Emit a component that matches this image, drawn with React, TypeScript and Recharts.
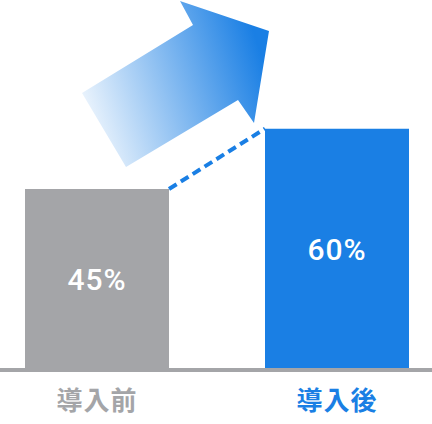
import React from "react";
import { Bar, Cell, ComposedChart, LabelList, Line, XAxis, YAxis } from "recharts";

const categories = ["導入前", "導入後"];
const values = [45, 60];
const barColors = ["#a4a5a8", "#1a7fe4"];
const tickColors = ["#a4a5a8", "#1a7fe4"];

// share of each category band taken by the bar
const BAR_SHARE = 0.6;

const data = categories.map((name, i) => ({ name, value: values[i] }));

// dashed connector: right top corner of first bar -> left top corner of second bar
const connector = [
  { x: 0 + BAR_SHARE / 2, y: values[0] },
  { x: 1 - BAR_SHARE / 2, y: values[1] },
];

function CategoryTick(props: any) {
  const { x, y, payload, index } = props;
  return (
    <text
      x={x}
      y={y}
      dy={32}
      textAnchor="middle"
      fill={tickColors[index]}
      fontSize={26}
      fontWeight={700}
      letterSpacing={1}
      fontFamily='"Noto Sans CJK JP", sans-serif'
    >
      {payload.value}
    </text>
  );
}

function Arrow() {
  return (
    <svg
      width={432}
      height={424}
      style={{ position: "absolute", left: 0, top: 0, pointerEvents: "none" }}
    >
      <defs>
        <linearGradient id="arrowGrad" gradientUnits="userSpaceOnUse" x1="88" y1="135" x2="268" y2="75">
          <stop offset="0%" stopColor="#1a7fe4" stopOpacity={0.06} />
          <stop offset="100%" stopColor="#1a7fe4" stopOpacity={1} />
        </linearGradient>
      </defs>
      <polygon
        points="82,93 193,25 180,1 269,31 254,123 238,100 126,167"
        fill="url(#arrowGrad)"
      />
    </svg>
  );
}

export default function App() {
  return (
    <div
      style={{
        position: "absolute",
        left: 0,
        top: 0,
        width: 432,
        height: 424,
        overflow: "hidden",
        background: "#fff",
      }}
    >
      <div style={{ position: "absolute", left: -23, top: 0 }}>
        <ComposedChart
          width={480}
          height={424}
          data={data}
          margin={{ top: 8, right: 0, bottom: 0, left: 0 }}
          barCategoryGap={`${((1 - BAR_SHARE) / 2) * 100}%`}
        >
          <XAxis
            dataKey="name"
            height={54}
            axisLine={{ stroke: "#a4a5a8", strokeWidth: 4 }}
            tickLine={false}
            tick={<CategoryTick />}
            interval={0}
          />
          <XAxis
            xAxisId="line"
            dataKey="x"
            type="number"
            domain={[-0.5, 1.5]}
            allowDataOverflow
            hide
          />
          <YAxis domain={[0, 90]} hide />
          <Bar dataKey="value" isAnimationActive={false}>
            {data.map((d, i) => (
              <Cell key={d.name} fill={barColors[i]} />
            ))}
            <LabelList
              dataKey="value"
              position="center"
              formatter={(v: number) => `${v}%`}
              fill="#ffffff"
              fontSize={30}
              fontWeight={500}
              letterSpacing={1}
              fontFamily="Roboto, sans-serif"
            />
          </Bar>
          <Line
            xAxisId="line"
            data={connector}
            dataKey="y"
            stroke="#1a7fe4"
            strokeWidth={4}
            strokeDasharray="9 5"
            dot={false}
            activeDot={false}
            isAnimationActive={false}
          />
        </ComposedChart>
      </div>
      <Arrow />
    </div>
  );
}
